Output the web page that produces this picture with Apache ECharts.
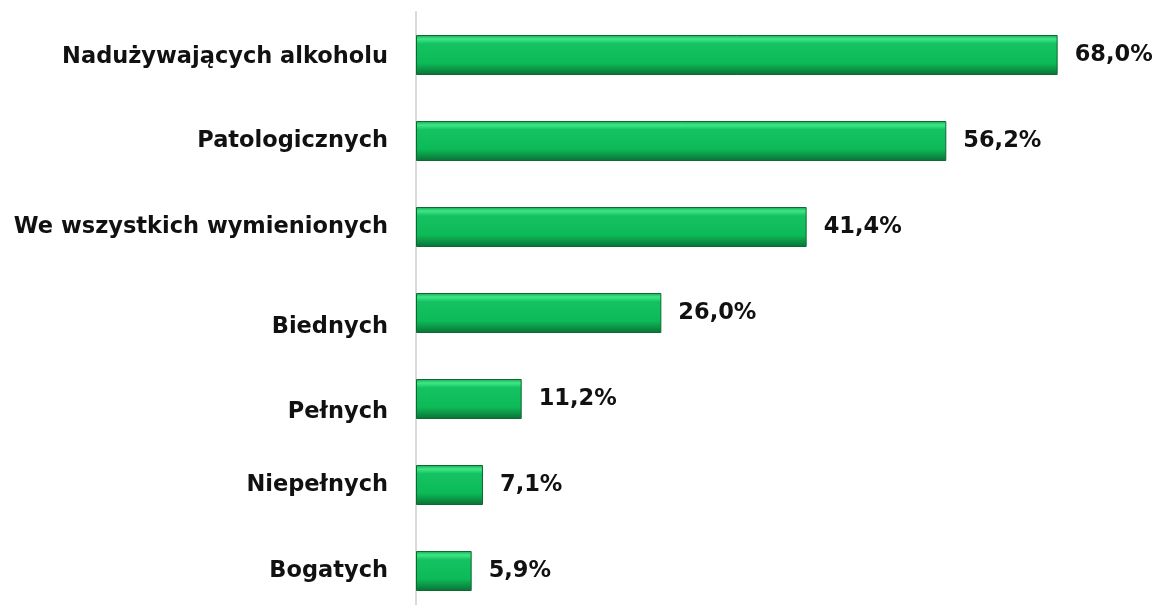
<!DOCTYPE html>
<html><head><meta charset="utf-8">
<script src="https://cdn.jsdelivr.net/npm/echarts@6/dist/echarts.min.js"></script>
<style>html,body{margin:0;padding:0;background:#fff;overflow:hidden;width:1159px;height:605px}#c{width:1159px;height:614px}</style>
</head><body><div id="c"></div>
<script>
const categories = ["Nadużywających alkoholu","Patologicznych","We wszystkich wymienionych","Biednych","Pełnych","Niepełnych","Bogatych"];
const values = [68.0, 56.2, 41.4, 26.0, 11.2, 7.1, 5.9];
// vertical label shift (px) per category, as in the reference
const labelShift = [2, 0, 0, 14, 13, 0, 0];

const chart = echarts.init(document.getElementById('c'));
const barColor = new echarts.graphic.LinearGradient(0,0,0,1,[
  {offset:0, color:'#18a452'},
  {offset:0.1, color:'#3ee886'},
  {offset:0.22, color:'#14c262'},
  {offset:0.7, color:'#0cbb57'},
  {offset:0.85, color:'#0c9646'},
  {offset:1, color:'#0a7036'}
]);
const font = {color:'#111', fontFamily:'DejaVu Sans', fontWeight:'bold', fontSize:22.5};
const rich = {};
labelShift.forEach((s,i)=>{ rich['s'+i] = Object.assign({padding:[s*2,0,0,0]}, font); });
chart.setOption({
  animation:false,
  grid:{left:416, right:7, top:12, bottom:0, containLabel:false},
  xAxis:{type:'value', min:0, max:78, show:false},
  yAxis:{
    type:'category', inverse:true,
    data: categories,
    axisLine:{show:true, lineStyle:{color:'#d9d9d9', width:2}},
    axisTick:{show:false},
    axisLabel:Object.assign({margin:28, rich:rich,
      formatter:(v,i)=>'{s'+i+'|'+v+'}'}, font)
  },
  series:[{
    type:'bar', data: values, barWidth:40,
    itemStyle:{color:barColor, borderColor:'#0a6a32', borderWidth:1},
    label:Object.assign({show:true, position:'right', distance:17,
      formatter:p=>p.value.toFixed(1).replace('.',',')+'%'}, font)
  }]
});
</script></body></html>
